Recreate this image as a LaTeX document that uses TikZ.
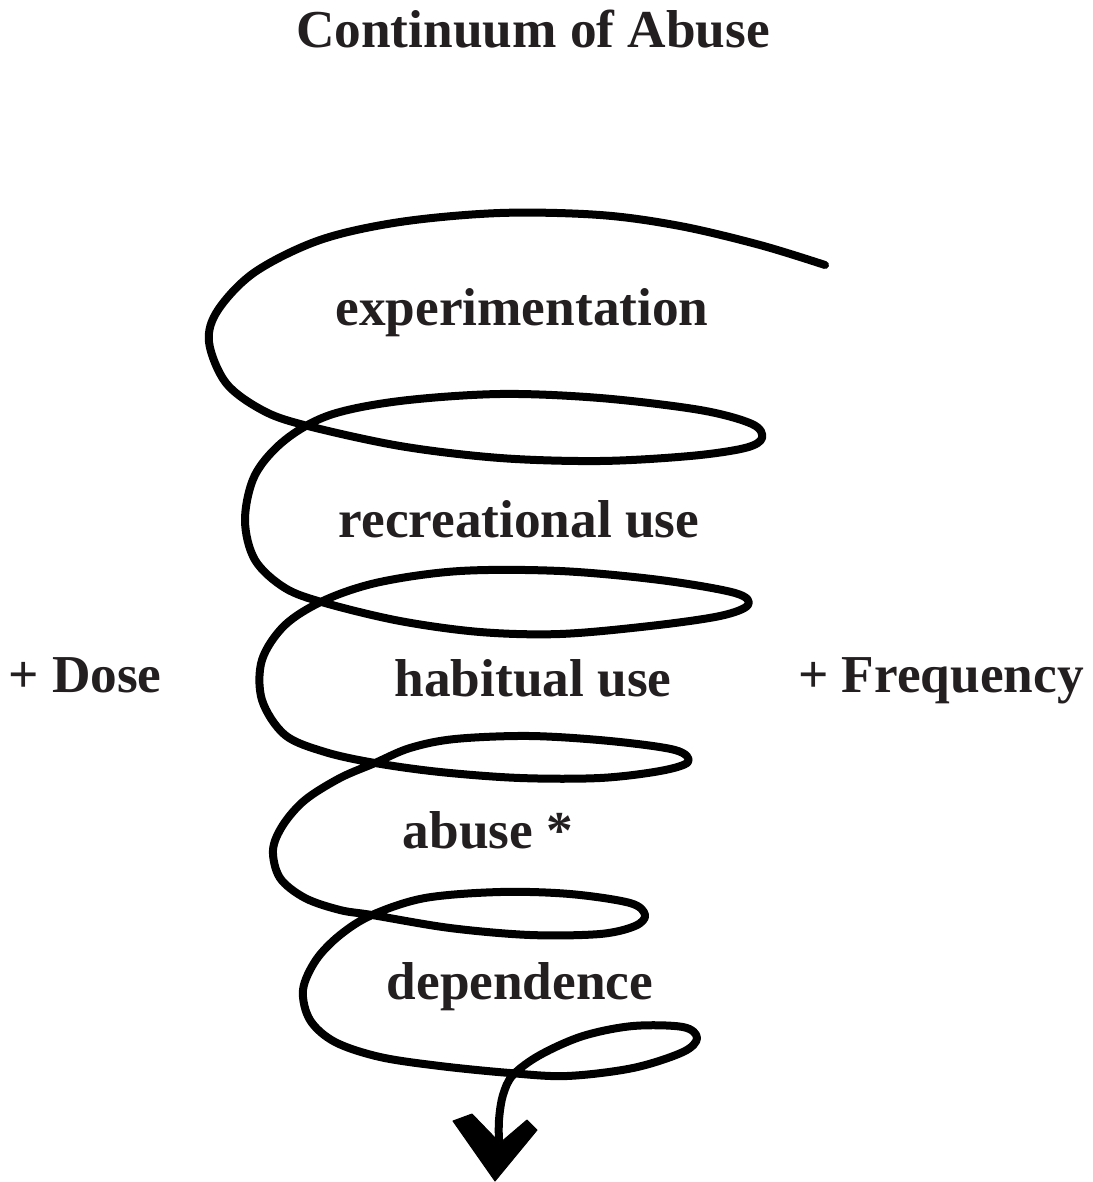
\documentclass[tikz,border=0pt]{standalone}
\usepackage{fontspec}
\setmainfont{Liberation Serif}
\definecolor{ink}{HTML}{231F20}
\begin{document}
\begin{tikzpicture}[x=1pt,y=-1pt,
  lbl/.style={font=\fontsize{53.3}{60}\selectfont\bfseries, text=ink, anchor=base, inner sep=0pt},
  coil/.style={line width=8pt, line join=round, line cap=round, black},
  tip/.style={fill=black, draw=black, line width=1pt, line join=round}]
\useasboundingbox (0,0) rectangle (1092,1182);
\fill[white] (0,0) rectangle (1092,1182);

% texts
\node[lbl] (title) at (533,48) {Continuum of Abuse};
\node[lbl] (exp) at (522,325) {experimentation};
\node[lbl] (rec) at (519,537) {recreational use};
\node[lbl] (hab) at (533,696) {habitual use};
\node[lbl] (abu) at (488,848) {abuse *};
\node[lbl] (dep) at (520,999) {dependence};
\node[lbl] (dose) at (85,692) {+ Dose};
\node[lbl] (freq) at (941,692) {+ Frequency};

% spiral
\coordinate (start) at (825,265);
\coordinate (shaftend) at (499,1146);
\draw[coil] plot[smooth, tension=0.55] coordinates {
 (825,265) (760,245) (680,226) (600,215) (500,213) (400,222) (320,240)
 (255,272) (218,310) (209,342) (226,383) (262,410) (304,425) (400,446)
 (500,458) (600,461) (690,456) (745,448) (762,438) (752,424) (700,410)
 (600,398) (500,394) (400,401) (330,415) (285,440) (255,475) (245,520)
 (255,560) (285,588) (325,603) (400,621) (480,632) (560,634) (650,626)
 (720,616) (748,605) (735,593) (660,580) (560,571) (460,571) (380,582)
 (325,600) (285,625) (262,660) (262,700) (285,735) (325,752) (375,763)
 (440,772) (520,778) (600,778) (660,771) (688,762) (675,750) (610,741)
 (530,736) (455,739) (410,748) (375,763) (340,778) (305,800) (283,825)
 (273,850) (280,878) (305,898) (340,910) (372,915) (450,928) (530,935)
 (600,934) (635,926) (645,915) (630,903) (570,894) (500,892) (425,898)
 (372,915) (340,935) (316,960) (303,990) (310,1020) (335,1042) (380,1057)
 (440,1066) (510,1073) (567,1076) (633,1068) (683,1052) (697,1038)
 (683,1027) (633,1026) (583,1036) (540,1055) (513,1075) (503,1095)
 (499,1120) (499,1146)};

% arrowhead
\filldraw[tip] (453,1121) -- (472,1114) -- (500,1143) -- (527,1120) -- (537,1130) -- (495,1181) -- cycle;
\end{tikzpicture}
\end{document}
